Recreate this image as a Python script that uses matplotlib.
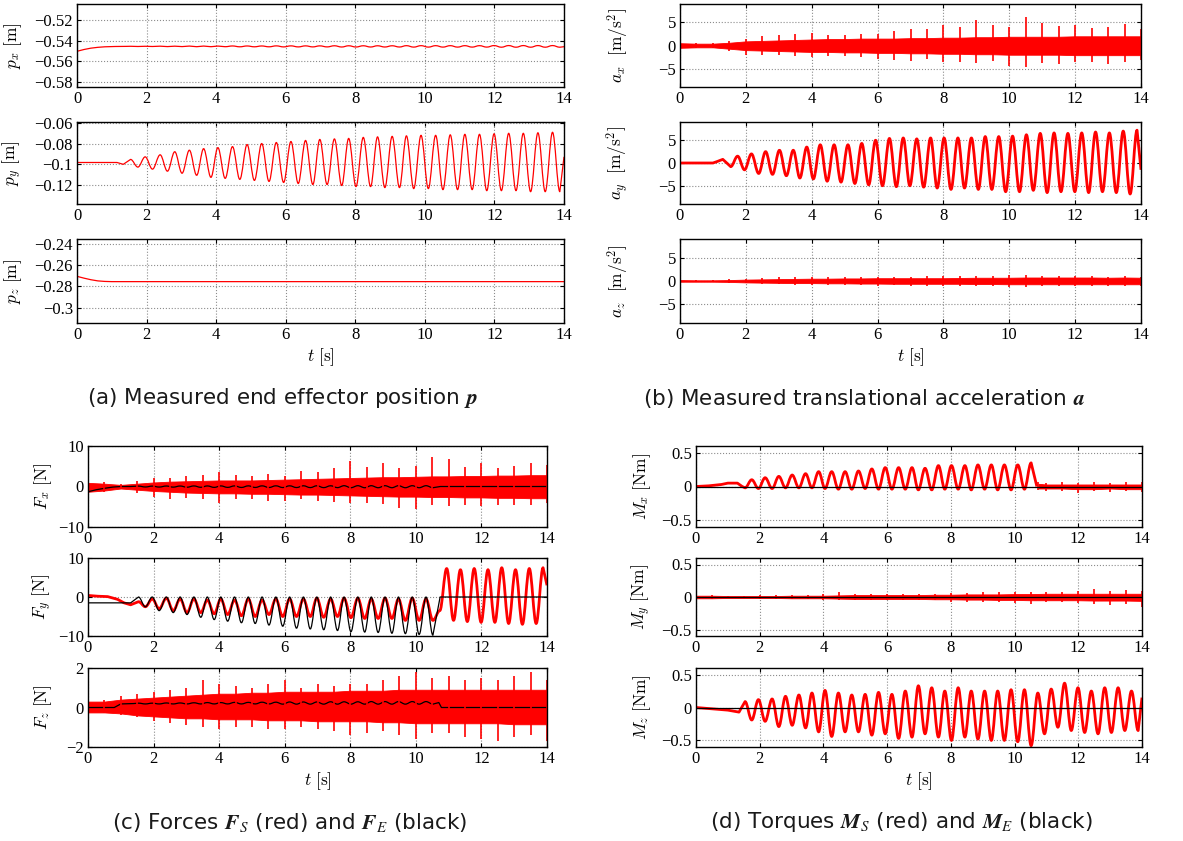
import numpy as np
import matplotlib.pyplot as plt
from matplotlib.path import Path
from matplotlib.patches import PathPatch
from matplotlib.ticker import FuncFormatter

plt.rcParams["font.family"] = "Liberation Serif"
plt.rcParams["mathtext.fontset"] = "cm"

t_p = [1.54, 1.96, 2.39, 2.81, 3.23, 3.64, 4.05, 4.47, 4.89, 5.31, 5.73, 6.15, 6.57, 6.98, 7.40,
       7.81, 8.23, 8.64, 9.06, 9.47, 9.89, 10.31, 10.73, 11.15, 11.57, 11.99, 12.41, 12.83, 13.25, 13.67]
t_q = [1.75, 2.17, 2.60, 3.02, 3.44, 3.85, 4.26, 4.68, 5.10, 5.52, 5.94, 6.36, 6.78, 7.19, 7.61,
       8.02, 8.44, 8.85, 9.27, 9.68, 10.10, 10.52, 10.94, 11.36, 11.78, 12.20, 12.62, 13.04, 13.46, 13.88]

# sample times for the noise envelopes
t_env = np.arange(0, 14.01, 0.5)

# ---- (a) position
px_head_t = [0, 0.2, 0.4, 0.6, 0.8, 1.1, 1.4]
px_head = [-0.5502, -0.5485, -0.5472, -0.5464, -0.5459, -0.5456, -0.5455]
px_p = [-0.5454, -0.5454, -0.5453, -0.5453, -0.5452, -0.5452, -0.5452, -0.5451, -0.5451, -0.5451,
        -0.5450, -0.5450, -0.5450, -0.5450, -0.5449, -0.5449, -0.5449, -0.5449, -0.5449, -0.5448,
        -0.5448, -0.5448, -0.5448, -0.5448, -0.5448, -0.5447, -0.5447, -0.5447, -0.5447, -0.5447]
px_q = [-0.5456, -0.5456, -0.5457, -0.5457, -0.5458, -0.5458, -0.5458, -0.5459, -0.5459, -0.5459,
        -0.5460, -0.5460, -0.5460, -0.5460, -0.5461, -0.5461, -0.5461, -0.5461, -0.5461, -0.5462,
        -0.5462, -0.5462, -0.5462, -0.5462, -0.5462, -0.5463, -0.5463, -0.5463, -0.5463, -0.5463]

py_head_t = [0, 1.15, 1.33]
py_head = [-0.0985, -0.0985, -0.1003]
py_p = [-0.0955, -0.093, -0.091, -0.088, -0.0865, -0.085, -0.084, -0.083, -0.081, -0.080,
        -0.079, -0.078, -0.077, -0.076, -0.0755, -0.075, -0.074, -0.0735, -0.073, -0.0725,
        -0.072, -0.072, -0.0715, -0.071, -0.071, -0.0705, -0.070, -0.070, -0.0695, -0.069]
py_q = [-0.103, -0.105, -0.107, -0.109, -0.111, -0.113, -0.114, -0.115, -0.116, -0.117,
        -0.118, -0.119, -0.120, -0.120, -0.121, -0.122, -0.122, -0.123, -0.123, -0.124,
        -0.124, -0.125, -0.125, -0.125, -0.126, -0.126, -0.126, -0.127, -0.127, -0.127]

pz_t = [0, 0.2, 0.4, 0.6, 0.8, 1.0, 14.0]
pz = [-0.2705, -0.2722, -0.2737, -0.2748, -0.2753, -0.2755, -0.2755]

# ---- (b) acceleration
ax_core_hi = [0.5, 0.4, 0.4, 0.6, 0.9, 1.0, 1.1, 1.2, 1.3, 1.4, 1.4, 1.5, 1.5, 1.5, 1.6, 1.6, 1.7,
              1.7, 1.8, 1.8, 1.9, 1.9, 1.9, 1.9, 2.0, 2.0, 2.0, 2.0, 2.0]
ax_core_lo = [-0.5, -0.4, -0.4, -0.7, -1.0, -1.1, -1.2, -1.3, -1.4, -1.4, -1.5, -1.5, -1.6, -1.6,
              -1.7, -1.7, -1.8, -1.8, -1.9, -1.9, -2.0, -2.0, -2.0, -2.0, -2.1, -2.1, -2.1, -2.1, -2.1]
ax_spk_hi = [0.8, 0.6, 0.6, 1.0, 1.5, 2.0, 2.2, 2.5, 2.8, 2.3, 2.2, 2.5, 2.6, 3.2, 3.5, 3.5, 4.5,
             4.0, 5.6, 4.5, 4.0, 6.1, 4.8, 4.2, 4.5, 3.8, 4.0, 4.6, 3.6]
ax_spk_lo = [-0.7, -0.6, -0.6, -1.2, -2.0, -2.0, -2.1, -2.3, -2.5, -2.2, -2.3, -2.6, -3.0, -3.2,
             -3.3, -3.0, -3.5, -3.6, -3.8, -3.4, -4.5, -4.6, -3.8, -4.0, -3.6, -3.6, -4.0, -3.5, -3.2]

ay_head_t = [0, 1.0, 1.12, 1.3]
ay_head = [0.0, 0.0, 0.3, 0.8]
ay_p = [-0.8, -1.5, -2.3, -2.5, -2.8, -3.3, -3.5, -4.0, -4.2, -4.5, -4.8, -5.0, -5.2, -5.0, -5.3,
        -5.5, -5.8, -5.5, -5.8, -5.8, -6.3, -6.3, -6.0, -6.5, -6.3, -6.3, -6.5, -6.3, -6.5, -6.8]
ay_q = [1.5, 2.0, 2.5, 2.8, 2.8, 3.5, 4.0, 4.0, 4.0, 4.3, 5.0, 5.4, 5.5, 5.3, 5.5,
        5.5, 5.5, 5.5, 5.8, 5.8, 5.9, 6.2, 6.5, 6.6, 6.5, 6.6, 6.8, 6.6, 7.0, 7.2]
ay_tail_t = [14.0]
ay_tail = [-1.5]

az_core_hi = [0.2, 0.15, 0.15, 0.2, 0.3, 0.35, 0.4, 0.45, 0.5, 0.5, 0.55, 0.55, 0.6, 0.6, 0.6, 0.6,
              0.6, 0.65, 0.7, 0.7, 0.7, 0.75, 0.75, 0.75, 0.75, 0.75, 0.7, 0.75, 0.7]
az_core_lo = [-0.15, -0.15, -0.15, -0.2, -0.3, -0.35, -0.4, -0.45, -0.45, -0.5, -0.5, -0.55, -0.55,
              -0.6, -0.6, -0.6, -0.6, -0.6, -0.65, -0.65, -0.7, -0.7, -0.7, -0.7, -0.7, -0.7, -0.7, -0.7, -0.7]
az_spk_hi = [0.3, 0.25, 0.3, 0.4, 0.5, 0.6, 0.8, 0.8, 0.9, 0.8, 0.9, 0.9, 0.9, 0.9, 0.9, 1.0, 1.0,
             1.0, 1.1, 1.1, 1.2, 1.2, 1.1, 1.0, 1.0, 1.0, 0.9, 1.1, 0.9]
az_spk_lo = [-0.25, -0.2, -0.25, -0.35, -0.5, -0.6, -0.7, -0.8, -0.8, -0.8, -0.9, -0.9, -1.0, -0.9,
             -1.0, -1.0, -1.0, -1.1, -1.1, -1.1, -1.2, -1.3, -1.1, -1.1, -1.0, -1.1, -1.0, -1.1, -1.1]

# ---- (c) forces, sensor (red) and estimate (black)
fx_core_hi = [0.9, 0.7, 0.4, 0.7, 1.0, 1.2, 1.3, 1.4, 1.5, 1.5, 1.5, 1.6, 1.7, 1.8, 1.9, 2.0, 2.1,
              2.2, 2.3, 2.3, 2.4, 2.5, 2.5, 2.6, 2.6, 2.7, 2.7, 2.8, 2.8]
fx_core_lo = [-1.3, -1.0, -0.5, -0.8, -1.1, -1.3, -1.5, -1.6, -1.7, -1.7, -1.8, -1.8, -1.9, -2.0,
              -2.0, -2.1, -2.2, -2.3, -2.4, -2.5, -2.5, -2.6, -2.6, -2.7, -2.7, -2.8, -2.8, -2.9, -2.9]
fx_spk_hi = [1.2, 1.0, 0.7, 1.3, 2.0, 2.2, 2.5, 2.8, 3.7, 2.8, 2.6, 3.0, 2.6, 3.8, 3.5, 4.5, 6.4,
             4.8, 5.7, 4.5, 5.0, 7.4, 6.7, 4.8, 5.7, 4.5, 5.0, 5.7, 5.3]
fx_spk_lo = [-1.5, -1.3, -0.7, -1.5, -2.5, -3.0, -2.8, -3.2, -4.0, -3.0, -3.2, -3.5, -3.5, -3.0,
             -3.5, -3.8, -4.0, -4.0, -4.3, -5.2, -5.6, -4.5, -4.8, -4.5, -4.8, -4.5, -4.6, -4.5, -4.0]
fxe_head_t = [0, 0.25, 0.5, 0.75, 1.0, 1.3]
fxe_head = [-1.3, -0.8, -0.45, -0.15, 0.0, 0.0]
fxe_p = [0.10, 0.10, 0.12, 0.12, 0.14, 0.14, 0.15, 0.15, 0.16, 0.16, 0.17,
         0.17, 0.18, 0.18, 0.18, 0.20, 0.20, 0.20, 0.20, 0.20, 0.20, 0.20]
fxe_q = [-0.12, -0.14, -0.16, -0.18, -0.20, -0.22, -0.22, -0.24, -0.24, -0.25, -0.26,
         -0.26, -0.27, -0.28, -0.28, -0.30, -0.30, -0.30, -0.30, -0.30, -0.30, -0.30]
fxe_tail_t = [10.75, 14.0]
fxe_tail = [0.0, 0.0]

fy_head_t = [0, 0.3, 0.6, 0.9, 1.1, 1.3]
fy_head = [0.4, 0.2, 0.1, -0.6, -1.5, -2.0]
fy_p = [-1.2, -0.5, -0.3, -0.5, -0.5, -0.8, -0.5, -0.8, -0.5, -0.8, -0.5, -0.5, -0.5, -0.3, -0.5,
        -0.3, -0.3, -0.5, -0.3, -0.5, -0.3, -0.5, -3.5, -6.0, -6.3, -6.5, -6.5, -6.8, -7.0, -6.8]
fy_q = [-2.5, -3.0, -3.5, -4.0, -4.0, -4.3, -4.5, -4.8, -5.0, -4.5, -5.0, -5.0, -5.0, -5.2, -5.0,
        -5.3, -5.5, -5.5, -5.5, -6.0, -6.0, -6.0, 7.3, 7.0, 7.3, 7.0, 7.5, 7.0, 7.3, 7.5]
fy_tail_t = [14.0]
fy_tail = [3.0]
fye_head_t = [0, 1.3]
fye_head = [-1.5, -1.5]
fye_p = [0.0, 0.0, 0.0, 0.0, 0.0, 0.0, 0.0, 0.0, 0.0, 0.0, 0.0,
         0.0, 0.0, 0.0, 0.0, 0.0, 0.0, 0.0, 0.0, 0.0, 0.0, 0.0]
fye_q = [-2.5, -3.5, -4.0, -4.5, -5.2, -5.8, -6.2, -6.6, -6.8, -7.2, -7.5,
         -8.0, -8.2, -8.4, -8.6, -8.9, -9.0, -9.1, -9.3, -9.4, -9.6, -9.8]
fye_tail_t = [10.74, 14.0]
fye_tail = [0.0, 0.0]

fz_core_hi = [0.3, 0.3, 0.4, 0.45, 0.5, 0.55, 0.6, 0.65, 0.7, 0.7, 0.75, 0.75, 0.8, 0.8, 0.8, 0.8,
              0.85, 0.85, 0.85, 0.9, 0.9, 0.9, 0.9, 0.9, 0.9, 0.9, 0.9, 0.9, 0.9]
fz_core_lo = [-0.25, -0.25, -0.3, -0.4, -0.45, -0.5, -0.55, -0.55, -0.6, -0.6, -0.6, -0.65, -0.65,
              -0.65, -0.7, -0.7, -0.7, -0.7, -0.75, -0.75, -0.8, -0.8, -0.8, -0.8, -0.8, -0.8, -0.85, -0.85, -0.85]
fz_spk_hi = [0.4, 0.4, 0.6, 0.7, 0.8, 0.9, 1.0, 1.4, 1.2, 1.1, 1.0, 1.2, 1.4, 1.0, 1.2, 1.1, 1.2,
             1.2, 1.4, 1.6, 1.8, 1.5, 1.6, 1.4, 1.5, 1.4, 1.6, 1.8, 1.4]
fz_spk_lo = [-0.35, -0.3, -0.4, -0.5, -0.7, -0.8, -0.9, -1.0, -1.1, -1.0, -1.0, -1.1, -1.1, -1.0,
             -1.1, -1.2, -1.4, -1.3, -1.2, -1.4, -1.6, -1.3, -1.3, -1.5, -1.6, -1.7, -1.5, -1.4, -1.7]
fze_head_t = [0, 0.8, 1.0, 1.4]
fze_head = [0.0, 0.0, 0.18, 0.2]
fze_p = [0.22, 0.22, 0.23, 0.23, 0.24, 0.25, 0.25, 0.26, 0.26, 0.27, 0.27,
         0.28, 0.28, 0.28, 0.29, 0.29, 0.29, 0.30, 0.30, 0.30, 0.30, 0.30]
fze_q = [0.18, 0.18, 0.18, 0.18, 0.18, 0.18, 0.18, 0.18, 0.18, 0.18, 0.17,
         0.17, 0.17, 0.17, 0.17, 0.17, 0.17, 0.17, 0.17, 0.17, 0.17, 0.17]
fze_tail_t = [10.7, 10.78, 14.0]
fze_tail = [0.25, 0.0, 0.0]

# ---- (d) torques
mx_head_t = [0, 0.4, 0.8, 1.0, 1.3, 1.45]
mx_head = [0.0, 0.01, 0.03, 0.05, 0.05, 0.0]
mx_p = [-0.02, -0.03, -0.03, -0.02, -0.02, -0.02, -0.03, -0.04, -0.04, -0.03, -0.04,
        -0.04, -0.04, -0.05, -0.05, -0.04, -0.04, -0.05, -0.04, -0.05, -0.05, -0.04]
mx_q = [0.10, 0.13, 0.15, 0.17, 0.19, 0.22, 0.22, 0.22, 0.23, 0.26, 0.28,
        0.28, 0.28, 0.27, 0.31, 0.31, 0.31, 0.32, 0.32, 0.32, 0.32, 0.35]
mx_tail_t = [10.7]
mx_tail = [0.0]
t_mx_rest = [10.75, 11.0, 11.5, 12.0, 12.5, 13.0, 13.5, 14.0]
mx_core_hi = [0.04, 0.03, 0.03, 0.03, 0.03, 0.03, 0.03, 0.03]
mx_core_lo = [-0.03, -0.03, -0.03, -0.04, -0.04, -0.03, -0.04, -0.04]
mx_spk_hi = [0.06, 0.05, 0.07, 0.05, 0.06, 0.05, 0.06, 0.07]
mx_spk_lo = [-0.05, -0.06, -0.07, -0.09, -0.07, -0.08, -0.07, -0.08]

my_core_hi = [0.02, 0.02, 0.015, 0.015, 0.015, 0.015, 0.02, 0.02, 0.02, 0.025, 0.03, 0.03, 0.03,
              0.03, 0.03, 0.035, 0.035, 0.04, 0.04, 0.04, 0.045, 0.045, 0.05, 0.05, 0.05, 0.05, 0.05, 0.05, 0.05]
my_core_lo = [-0.02, -0.02, -0.015, -0.015, -0.015, -0.015, -0.02, -0.02, -0.02, -0.025, -0.03,
              -0.03, -0.03, -0.03, -0.03, -0.035, -0.035, -0.04, -0.04, -0.045, -0.045, -0.05, -0.05,
              -0.05, -0.05, -0.055, -0.055, -0.055, -0.06]
my_spk_hi = [0.03, 0.03, 0.02, 0.02, 0.03, 0.03, 0.03, 0.03, 0.04, 0.07, 0.04, 0.05, 0.05, 0.04,
             0.05, 0.05, 0.06, 0.06, 0.07, 0.08, 0.08, 0.08, 0.07, 0.08, 0.09, 0.12, 0.10, 0.11, 0.10]
my_spk_lo = [-0.03, -0.03, -0.02, -0.02, -0.03, -0.03, -0.03, -0.03, -0.04, -0.04, -0.05, -0.05,
             -0.04, -0.05, -0.05, -0.05, -0.07, -0.07, -0.07, -0.08, -0.09, -0.10, -0.08, -0.08,
             -0.09, -0.10, -0.13, -0.10, -0.15]

mz_head_t = [0, 0.5, 1.0, 1.35]
mz_head = [0.0, -0.02, -0.04, -0.07]
mz_p = [0.09, 0.12, 0.13, 0.17, 0.19, 0.22, 0.26, 0.22, 0.19, 0.20, 0.23, 0.20, 0.25, 0.33, 0.30,
        0.25, 0.30, 0.25, 0.25, 0.25, 0.27, 0.27, 0.22, 0.28, 0.37, 0.30, 0.25, 0.30, 0.30, 0.25]
mz_q = [-0.19, -0.21, -0.29, -0.27, -0.31, -0.37, -0.44, -0.37, -0.37, -0.42, -0.40, -0.47, -0.45,
        -0.40, -0.45, -0.50, -0.45, -0.48, -0.50, -0.50, -0.52, -0.58, -0.40, -0.30, -0.35, -0.38,
        -0.40, -0.38, -0.35, -0.35]
mz_tail_t = [14.0]
mz_tail = [0.15]

m_est_t = [0, 14]
m_est = [0.0, 0.0]


def wave(ax, vp, vq, head_t, head, tail_t, tail, color, lw):
    # straight segments for lead-in / lead-out, smooth arcs between the read extrema
    n = len(vp)
    ext_t, ext_v = [], []
    for i in range(n):
        ext_t += [t_p[i], t_q[i]]
        ext_v += [vp[i], vq[i]]
    verts = [(head_t[0], head[0])]
    codes = [Path.MOVETO]
    for x, y in zip(list(head_t[1:]) + [ext_t[0]], list(head[1:]) + [ext_v[0]]):
        verts.append((x, y))
        codes.append(Path.LINETO)
    for i in range(1, len(ext_t)):
        x0, y0, x1, y1 = ext_t[i - 1], ext_v[i - 1], ext_t[i], ext_v[i]
        k = 0.36 * (x1 - x0)
        verts += [(x0 + k, y0), (x1 - k, y1), (x1, y1)]
        codes += [Path.CURVE4] * 3
    for x, y in zip(tail_t, tail):
        verts.append((x, y))
        codes.append(Path.LINETO)
    ax.add_patch(PathPatch(Path(verts, codes), fill=False, edgecolor=color, lw=lw,
                           capstyle="butt", joinstyle="round"))


def noise(ax, t, core_lo, core_hi, spk_lo, spk_hi):
    ax.fill_between(t, core_lo, core_hi, color="red", lw=0.6, edgecolor="red")
    ax.vlines(t, spk_lo, spk_hi, color="red", lw=1.2)


W, H = 1183, 841
fig = plt.figure(figsize=(W / 100, H / 100), dpi=100)


def make_ax(left, right, top, bottom):
    return fig.add_axes([left / W, 1 - bottom / H, (right - left) / W, (bottom - top) / H])


fmt = FuncFormatter(lambda v, pos: f"{v:g}".replace("-", "\u2212"))


def style(ax, ylim, yticks, ylabel, label_x, left, right):
    ax.set_xlim(0, 14)
    ax.set_xticks(range(0, 15, 2))
    ax.set_ylim(*ylim)
    ax.set_yticks(yticks)
    ax.xaxis.set_major_formatter(fmt)
    ax.yaxis.set_major_formatter(fmt)
    ax.set_axisbelow(True)
    ax.grid(True, ls=":", color="0.55", lw=0.8)
    ax.tick_params(direction="in", top=True, right=True, labelsize=12, length=3, width=0.8, pad=3)
    for s in ax.spines.values():
        s.set_linewidth(1.0)
    ax.set_ylabel(ylabel, fontsize=12.5)
    ax.yaxis.set_label_coords((label_x + 8 - left) / (right - left), 0.5)


rows_top = [(4, 87), (122, 204), (239, 323)]
rows_bot = [(446, 527), (558, 636), (668, 747)]
col_a, col_b, col_c, col_d = (77, 564), (680, 1141), (88, 547), (696, 1142)
lab_a, lab_b, lab_c, lab_d = 16, 623, 46, 645

# (a)
a1 = make_ax(*col_a, *rows_top[0])
wave(a1, px_p, px_q, px_head_t, px_head, [14.0], [-0.5458], "red", 0.9)
style(a1, (-0.5845, -0.5048), [-0.58, -0.56, -0.54, -0.52], r"$p_x\ [\mathrm{m}]$", lab_a, *col_a)

a2 = make_ax(*col_a, *rows_top[1])
wave(a2, py_p, py_q, py_head_t, py_head, [14.0], [-0.093], "red", 0.9)
style(a2, (-0.139, -0.059), [-0.12, -0.1, -0.08, -0.06], r"$p_y\ [\mathrm{m}]$", lab_a, *col_a)

a3 = make_ax(*col_a, *rows_top[2])
a3.plot(pz_t, pz, color="red", lw=0.9)
style(a3, (-0.3146, -0.2352), [-0.3, -0.28, -0.26, -0.24], r"$p_z\ [\mathrm{m}]$", lab_a, *col_a)
a3.set_xlabel(r"$t\ [\mathrm{s}]$", fontsize=12.5, labelpad=2)

# (b)
b1 = make_ax(*col_b, *rows_top[0])
noise(b1, t_env, ax_core_lo, ax_core_hi, ax_spk_lo, ax_spk_hi)
style(b1, (-9, 9), [-5, 0, 5], r"$a_x\ \ [\mathrm{m/s^2}]$", lab_b, *col_b)

b2 = make_ax(*col_b, *rows_top[1])
wave(b2, ay_p, ay_q, ay_head_t, ay_head, ay_tail_t, ay_tail, "red", 2.0)
style(b2, (-9, 9), [-5, 0, 5], r"$a_y\ \ [\mathrm{m/s^2}]$", lab_b, *col_b)

b3 = make_ax(*col_b, *rows_top[2])
noise(b3, t_env, az_core_lo, az_core_hi, az_spk_lo, az_spk_hi)
style(b3, (-9, 9), [-5, 0, 5], r"$a_z\ \ [\mathrm{m/s^2}]$", lab_b, *col_b)
b3.set_xlabel(r"$t\ [\mathrm{s}]$", fontsize=12.5, labelpad=2)

# (c)
c1 = make_ax(*col_c, *rows_bot[0])
noise(c1, t_env, fx_core_lo, fx_core_hi, fx_spk_lo, fx_spk_hi)
wave(c1, fxe_p, fxe_q, fxe_head_t, fxe_head, fxe_tail_t, fxe_tail, "black", 0.9)
style(c1, (-10, 10), [-10, 0, 10], r"$F_x\ [\mathrm{N}]$", lab_c, *col_c)

c2 = make_ax(*col_c, *rows_bot[1])
wave(c2, fy_p, fy_q, fy_head_t, fy_head, fy_tail_t, fy_tail, "red", 2.0)
wave(c2, fye_p, fye_q, fye_head_t, fye_head, fye_tail_t, fye_tail, "black", 0.9)
style(c2, (-10, 10), [-10, 0, 10], r"$F_y\ [\mathrm{N}]$", lab_c, *col_c)

c3 = make_ax(*col_c, *rows_bot[2])
noise(c3, t_env, fz_core_lo, fz_core_hi, fz_spk_lo, fz_spk_hi)
wave(c3, fze_p, fze_q, fze_head_t, fze_head, fze_tail_t, fze_tail, "black", 0.9)
style(c3, (-2, 2), [-2, 0, 2], r"$F_z\ [\mathrm{N}]$", lab_c, *col_c)
c3.set_xlabel(r"$t\ [\mathrm{s}]$", fontsize=12.5, labelpad=2)

# (d)
d1 = make_ax(*col_d, *rows_bot[0])
wave(d1, mx_p, mx_q, mx_head_t, mx_head, mx_tail_t, mx_tail, "red", 2.0)
noise(d1, t_mx_rest, mx_core_lo, mx_core_hi, mx_spk_lo, mx_spk_hi)
d1.plot(m_est_t, m_est, color="black", lw=0.9)
style(d1, (-0.6, 0.6), [-0.5, 0, 0.5], r"$M_x\ [\mathrm{Nm}]$", lab_d, *col_d)

d2 = make_ax(*col_d, *rows_bot[1])
noise(d2, t_env, my_core_lo, my_core_hi, my_spk_lo, my_spk_hi)
d2.plot(m_est_t, m_est, color="black", lw=0.9)
style(d2, (-0.6, 0.6), [-0.5, 0, 0.5], r"$M_y\ [\mathrm{Nm}]$", lab_d, *col_d)

d3 = make_ax(*col_d, *rows_bot[2])
wave(d3, mz_p, mz_q, mz_head_t, mz_head, mz_tail_t, mz_tail, "red", 2.0)
d3.plot(m_est_t, m_est, color="black", lw=0.9)
style(d3, (-0.6, 0.6), [-0.5, 0, 0.5], r"$M_z\ [\mathrm{Nm}]$", lab_d, *col_d)
d3.set_xlabel(r"$t\ [\mathrm{s}]$", fontsize=12.5, labelpad=2)

# captions
cap = dict(ha="center", va="center", fontsize=15.5, family="DejaVu Sans", color="0.1",
           math_fontfamily="stix")
fig.text(282 / W, 1 - 398 / H, r"(a) Measured end effector position $\mathbfit{p}$", **cap)
fig.text(864 / W, 1 - 398 / H, r"(b) Measured translational acceleration $\mathbfit{a}$", **cap)
fig.text(290 / W, 1 - 822 / H, r"(c) Forces $\mathbfit{F}_S$ (red) and $\mathbfit{F}_E$ (black)", **cap)
fig.text(901 / W, 1 - 822 / H, r"(d) Torques $\mathbfit{M}_S$ (red) and $\mathbfit{M}_E$ (black)", **cap)

fig.savefig("out.png", dpi=100)
